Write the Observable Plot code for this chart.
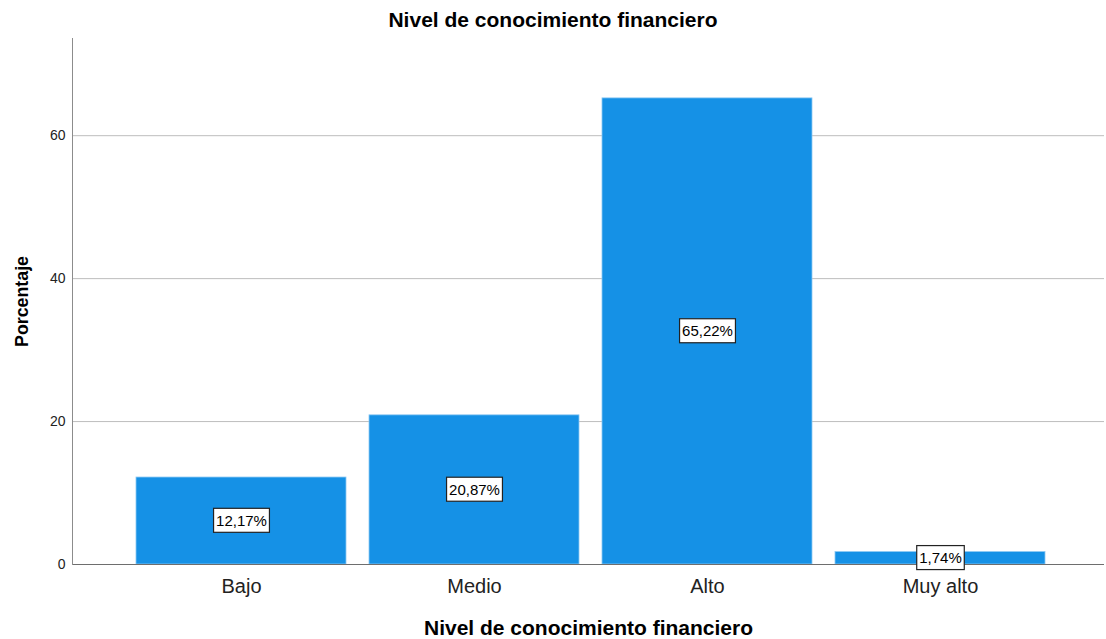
<!DOCTYPE html>
<html><head><meta charset="utf-8">
<script src="https://cdn.jsdelivr.net/npm/d3@7"></script>
<script src="https://cdn.jsdelivr.net/npm/@observablehq/plot@0.6"></script>
<style>
body{margin:0;background:#fff;font-family:"Liberation Sans",Arial,sans-serif;}
#title{width:1106px;height:36px;box-sizing:border-box;padding-top:8px;text-align:center;font-weight:bold;font-size:21px;line-height:24px;color:#000;}
#chart svg{display:block;}
</style></head><body>
<div id="title">Nivel de conocimiento financiero</div>
<div id="chart"></div>
<script>
const categories = ["Bajo", "Medio", "Alto", "Muy alto"];
const percentages = [12.17, 20.87, 65.22, 1.74];
const valueLabels = ["12,17%", "20,87%", "65,22%", "1,74%"];
const yTicks = [0, 20, 40, 60];
const xTitle = "Nivel de conocimiento financiero";
const yTitle = "Porcentaje";

const data = categories.map((c, i) => ({category: c, pct: percentages[i], label: valueLabels[i]}));

const chart = Plot.plot({
  width: 1106, height: 603,
  marginLeft: 72, marginRight: 2, marginTop: 2, marginBottom: 75,
  insetLeft: 64, insetRight: 59,
  style: {fontFamily: "Liberation Sans, Arial, sans-serif", fontSize: "14px", color: "#222", background: "#fff"},
  x: {type: "band", domain: categories, paddingInner: 0.1, paddingOuter: 0, axis: null},
  y: {domain: [0, 73.6], axis: null},
  marks: [
    Plot.gridY(yTicks.filter(d => d > 0), {stroke: "#bdbdbd", strokeOpacity: 1}),
    Plot.barY(data, {x: "category", y: "pct", fill: "#1591e6", stroke: "#8cc8f3", strokeWidth: 0.8}),
    Plot.ruleY([0], {stroke: "#6e6e6e"}),
    Plot.axisY({ticks: yTicks, tickSize: 0, tickPadding: 7, label: null, fontSize: 14, fill: "#222"}),
    Plot.frame({anchor: "left", stroke: "#8c8c8c"}),
    Plot.text(categories, {x: d => d, frameAnchor: "bottom", dy: 28.5, lineAnchor: "bottom", fontSize: 20, fill: "#222"}),
    Plot.text(data, {x: "category", y: d => d.pct / 2, text: "label", fontSize: 15, fill: "#000"}),
    Plot.text([xTitle], {frameAnchor: "bottom", dy: 70, lineAnchor: "bottom", fontSize: 21, fontWeight: "bold", fill: "#000"}),
    Plot.text([yTitle], {frameAnchor: "left", textAnchor: "middle", dx: -45, rotate: -90, lineAnchor: "bottom", fontSize: 17.8, fontWeight: "bold", fill: "#000"})
  ]
});
document.getElementById("chart").append(chart);

Array.from(chart.querySelectorAll("text"))
  .filter(t => valueLabels.includes(t.textContent.trim()))
  .forEach(t => {
    const b = t.getBBox();
    const r = document.createElementNS("http://www.w3.org/2000/svg", "rect");
    const cy = b.y + b.height / 2;
    r.setAttribute("x", b.x - 2.5);
    r.setAttribute("y", cy - 12);
    r.setAttribute("width", b.width + 5);
    r.setAttribute("height", 24);
    r.setAttribute("fill", "#fff");
    r.setAttribute("stroke", "#222");
    r.setAttribute("stroke-width", 1.2);
    if (t.getAttribute("transform")) r.setAttribute("transform", t.getAttribute("transform"));
    t.parentNode.insertBefore(r, t);
  });
</script>
</body></html>
